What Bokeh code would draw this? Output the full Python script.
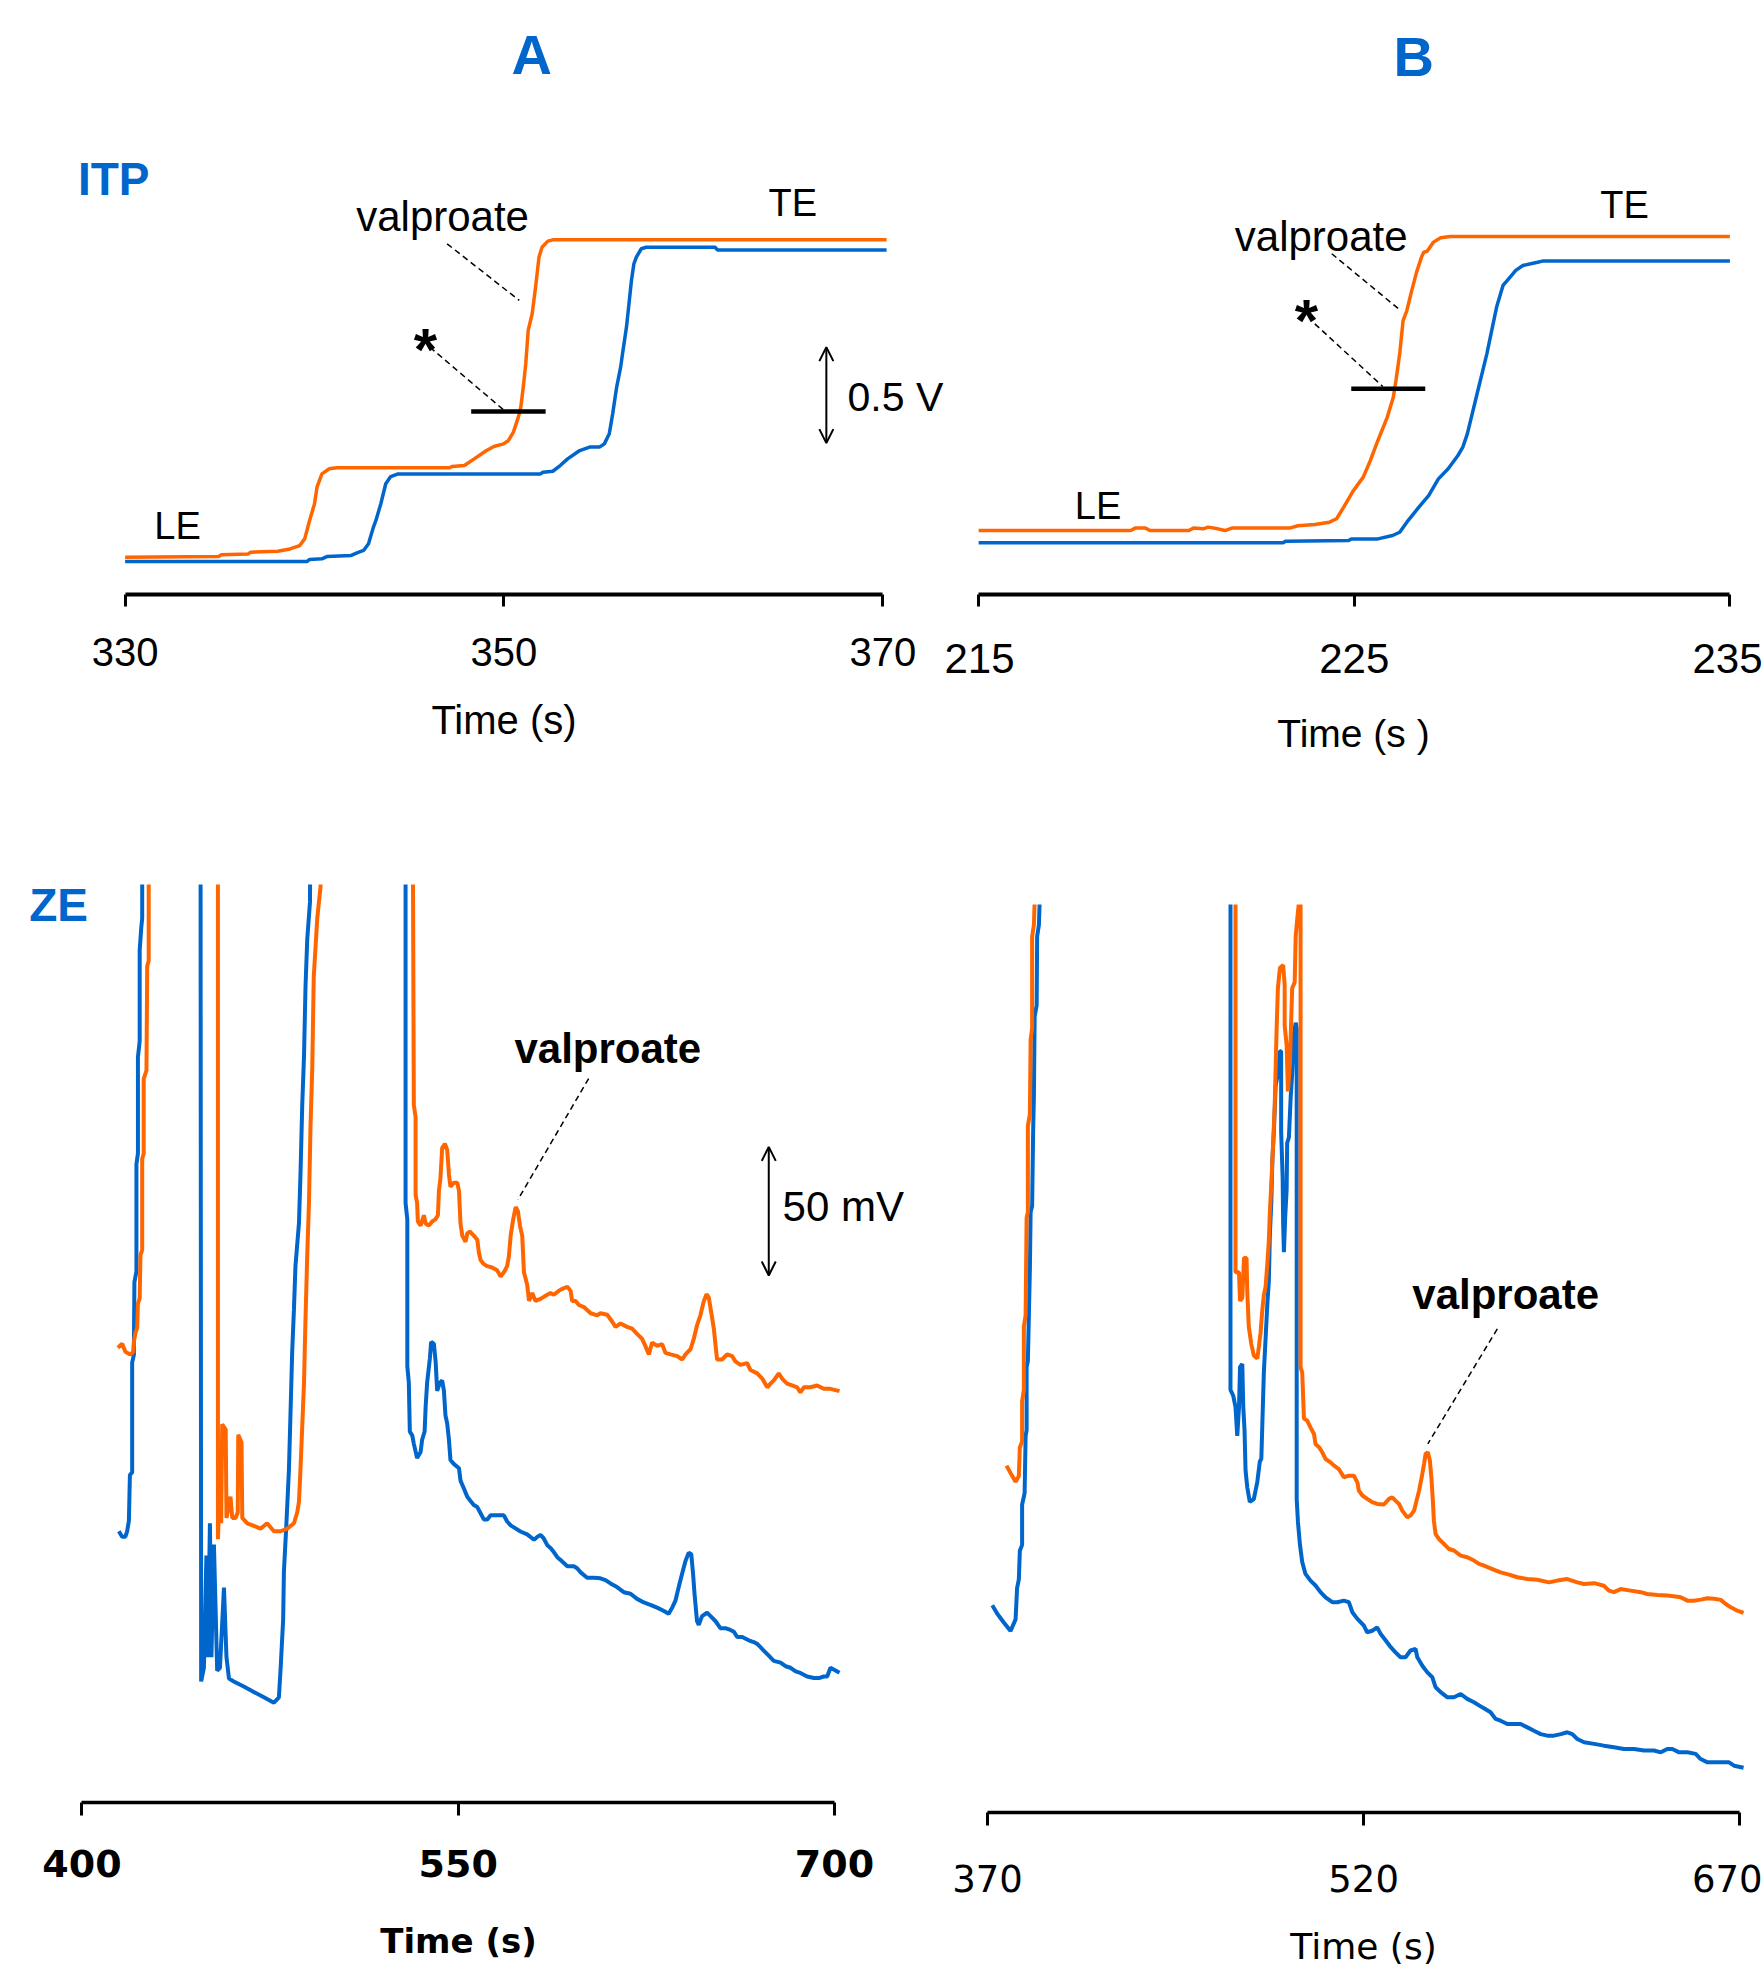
from bokeh.plotting import figure
from bokeh.layouts import column, row
from bokeh.models import Range1d, FixedTicker, Label, Arrow, OpenHead
from bokeh.embed import file_html
from bokeh.resources import INLINE

BLUE = "#0066CC"
ORANGE = "#FF6600"
FONT = "Liberation Sans"
FONT2 = "DejaVu Sans"

# ---------------- ITP, panel A (time s, voltage V) ----------------
itpA_orange_t = [330.0, 334.94, 335.07, 336.50, 336.63, 338.06, 338.70, 339.22, 339.48, 339.74, 340.00, 340.13,
                 340.39, 340.78, 341.17, 347.13, 347.26, 347.91, 348.43, 349.08, 349.47, 349.98, 350.24, 350.50,
                 350.76, 350.89, 351.02, 351.15, 351.28, 351.49, 351.67, 351.85, 352.01, 352.32, 352.58, 370.2]
itpA_orange_v = [0.023, 0.026, 0.035, 0.040, 0.049, 0.054, 0.066, 0.084, 0.119, 0.216, 0.304, 0.391,
                 0.461, 0.488, 0.493, 0.493, 0.500, 0.505, 0.540, 0.584, 0.605, 0.619, 0.637, 0.681,
                 0.760, 0.812, 0.918, 1.040, 1.216, 1.304, 1.444, 1.602, 1.654, 1.686, 1.693, 1.693]
itpA_blue_t = [330.0, 339.61, 339.74, 340.39, 340.65, 341.94, 342.21, 342.59, 342.85, 343.11, 343.24, 343.50,
               343.76, 344.02, 344.41, 351.93, 352.06, 352.58, 352.97, 353.36, 354.00, 354.52, 355.04, 355.30,
               355.56, 355.74, 355.95, 356.16, 356.26, 356.47, 356.60, 356.73, 356.86, 356.99, 357.25, 357.51,
               361.14, 361.27, 370.2]
itpA_blue_v = [0.0, 0.0, 0.011, 0.014, 0.026, 0.032, 0.044, 0.058, 0.093, 0.181, 0.216, 0.304,
               0.409, 0.447, 0.461, 0.461, 0.470, 0.475, 0.505, 0.540, 0.584, 0.602, 0.602, 0.619,
               0.672, 0.777, 0.918, 1.023, 1.093, 1.235, 1.356, 1.479, 1.567, 1.602, 1.646, 1.654,
               1.654, 1.640, 1.640]

# ---------------- ITP, panel B ----------------
itpB_orange_t = [215.0, 219.05, 219.18, 219.43, 219.56, 220.60, 220.72, 220.98, 221.11, 221.37, 221.56, 221.76,
                 223.30, 223.50, 223.95, 224.34, 224.53, 224.72, 224.98, 225.24, 225.43, 225.63, 225.88, 226.04,
                 226.11, 226.21, 226.30, 226.40, 226.53, 226.66, 226.79, 226.85, 226.94, 227.11, 227.30, 227.56, 235.0]
itpB_orange_v = [0.064, 0.064, 0.078, 0.078, 0.064, 0.064, 0.078, 0.073, 0.082, 0.073, 0.064, 0.078,
                 0.078, 0.089, 0.096, 0.108, 0.126, 0.187, 0.275, 0.345, 0.433, 0.538, 0.661, 0.766,
                 0.854, 0.994, 1.169, 1.222, 1.327, 1.424, 1.503, 1.529, 1.534, 1.582, 1.605, 1.612, 1.612]
itpB_blue_t = [215.0, 223.11, 223.17, 224.85, 224.92, 225.63, 226.02, 226.21, 226.40, 226.72, 226.98, 227.24,
               227.50, 227.76, 227.89, 228.01, 228.14, 228.27, 228.40, 228.53, 228.66, 228.79, 228.96, 229.11,
               229.30, 229.49, 229.88, 230.01, 235.0]
itpB_blue_v = [0.0, 0.0, 0.008, 0.012, 0.020, 0.020, 0.038, 0.055, 0.108, 0.187, 0.248, 0.336,
               0.389, 0.459, 0.503, 0.573, 0.678, 0.784, 0.889, 0.994, 1.117, 1.240, 1.354, 1.389,
               1.433, 1.459, 1.476, 1.482, 1.482]

# ---------------- ZE, panel A (time s, signal mV; values above ~357 are off-scale) ----------------
zeA_blue_t = [414.7, 416.0, 417.3, 418.0, 418.7, 419.1, 420.0, 420.0, 420.7, 420.7, 420.9, 421.7, 421.7, 422.3,
              422.3, 423.0, 423.0, 423.6, 424.0, 424.0, 424.3,
              447.25, 447.5, 448.6, 449.6, 450.2, 451.0, 451.6, 452.6, 453.9, 455.0, 456.6, 457.6, 458.6, 460.5,
              464.5, 468.5, 472.5, 476.5, 478.5, 479.2, 480.2, 480.5, 481.5, 482.5, 483.1, 483.8, 484.5, 485.1,
              486.5, 487.1, 487.8, 488.5, 489.1, 489.8, 490.9, 491.1,
              529.0, 529.0, 529.7, 529.7, 530.3, 530.7, 531.7, 532.3, 533.6, 535.0, 535.6, 536.6, 537.0, 537.6,
              538.7, 539.2, 540.3, 541.0, 541.6, 542.7, 543.6, 544.3, 544.9, 545.6, 546.3, 546.9, 548.3, 550.3,
              550.9, 552.3, 553.6, 554.9, 556.2, 557.6, 558.9, 560.2, 561.6, 562.9, 565.5, 568.2, 569.5, 570.9,
              572.2, 574.8, 577.5, 580.2, 581.5, 582.8, 584.1, 585.5, 586.8, 588.1, 589.5, 590.8, 593.5, 596.1,
              597.4, 598.8, 601.4, 604.1, 606.7, 608.7, 610.7, 613.3, 616.0, 618.7, 621.3, 624.0, 626.6, 629.3,
              632.0, 633.9, 635.3, 636.6, 637.9, 639.3, 640.6, 641.9, 642.9, 643.6, 644.2, 645.2, 645.9, 647.2,
              649.2, 650.6, 652.6, 654.5, 656.5, 658.5, 659.9, 661.2, 663.2, 665.8, 667.8, 669.2, 670.5, 671.8,
              673.8, 675.8, 678.5, 680.5, 682.5, 684.5, 686.4, 689.1, 691.8, 693.8, 695.7, 697.1, 698.4, 699.7,
              702.0]
zeA_blue_mv = [105.5, 103.4, 103.4, 105.5, 109.6, 127.4, 128.4, 171.1, 174.2, 177.4, 202.4, 206.5, 248.2, 252.4,
               289.9, 296.1, 331.5, 339.9, 344.0, 356.1, 400.0,
               400.0, 47.1, 52.4, 96.1, 56.5, 108.6, 56.5, 100.3, 51.3, 52.4, 83.6, 56.5, 48.2, 47.1,
               45.1, 43.0, 40.9, 38.8, 40.9, 52.4, 71.1, 89.8, 108.6, 129.4, 150.3, 175.3, 191.9, 208.6,
               225.3, 244.0, 271.1, 289.9, 316.9, 335.7, 350.3, 400.0,
               400.0, 233.2, 226.8, 169.7, 163.3, 144.3, 142.7, 139.5, 134.0, 136.3, 141.1, 144.3, 153.8, 163.3,
               172.8, 179.2, 178.4, 171.3, 160.1, 163.3, 164.1, 160.1, 150.6, 147.4, 141.1, 133.2, 131.6, 130.0,
               125.2, 122.0, 118.9, 117.3, 115.7, 114.9, 112.5, 110.1, 110.1, 111.7, 111.7, 111.7, 109.3, 107.8,
               107.0, 105.4, 104.3, 102.2, 103.3, 104.1, 102.7, 100.1, 99.0, 97.4, 95.4, 94.3, 91.9, 91.9,
               91.1, 89.5, 87.4, 87.4, 87.2, 86.5, 85.2, 83.8, 81.8, 81.2, 79.2, 77.8, 76.9, 75.8,
               74.5, 73.4, 75.8, 78.5, 83.8, 89.2, 93.9, 97.2, 96.6, 89.2, 81.2, 70.5, 69.1, 72.5,
               73.8, 72.5, 70.5, 67.8, 67.8, 67.1, 66.4, 64.4, 64.4, 63.1, 62.4, 61.7, 60.4, 59.1,
               57.1, 55.1, 54.4, 53.0, 52.4, 51.0, 50.4, 49.0, 48.4, 48.4, 49.0, 49.0, 52.4, 51.7,
               50.5]
zeA_orange_t = [414.3, 416.0, 417.3, 419.3, 420.4, 420.7, 421.3, 422.0, 422.3, 423.0, 423.3, 424.0, 424.0, 424.6,
                424.6, 425.7, 426.0, 426.6, 426.6, 426.8,
                454.2, 454.2, 455.0, 455.5, 455.9, 457.3, 457.6, 459.2, 459.9, 461.2, 462.1, 462.3, 463.6, 463.9,
                465.9, 468.5, 471.2, 473.8, 476.5, 479.2, 481.8, 484.5, 485.8, 486.5, 487.1, 487.8, 488.5, 489.1,
                489.8, 490.5, 491.1, 491.8, 492.4, 493.8, 495.1, 495.3,
                531.8, 532.3, 533.0, 533.0, 533.6, 533.9, 535.0, 536.3, 537.0, 538.3, 539.6, 540.9, 541.9, 542.3,
                542.9, 543.6, 544.7, 545.6, 546.3, 546.9, 548.3, 549.6, 550.3, 550.9, 551.6, 552.9, 553.6, 554.6,
                556.2, 557.6, 558.2, 558.9, 560.2, 561.6, 563.5, 565.5, 566.9, 568.2, 569.5, 570.2, 570.9, 571.9,
                572.9, 573.8, 574.6, 575.5, 576.2, 577.5, 578.2, 579.5, 580.8, 582.8, 585.5, 586.8, 588.1, 590.1,
                591.5, 593.5, 594.8, 595.4, 596.8, 598.1, 600.1, 602.8, 605.4, 606.7, 609.4, 611.4, 612.7, 614.7,
                617.3, 619.3, 621.3, 623.3, 624.6, 626.0, 627.3, 629.3, 631.3, 632.6, 634.6, 637.3, 639.3, 640.6,
                642.6, 643.9, 645.2, 646.6, 647.9, 649.0, 649.9, 650.8, 651.9, 652.6, 653.2, 655.2, 657.2, 659.2,
                660.5, 662.5, 665.2, 666.5, 669.2, 671.2, 673.2, 674.5, 675.8, 677.8, 679.1, 681.1, 683.1, 685.1,
                686.4, 687.8, 690.4, 693.1, 695.7, 698.4, 702.0]
zeA_orange_mv = [176.9, 178.4, 175.3, 174.2, 175.3, 179.2, 182.6, 184.7, 194.0, 196.1, 212.8, 214.9, 250.3, 252.4,
                 281.5, 284.7, 325.3, 327.4, 356.1, 400.0,
                 400.0, 102.4, 123.2, 108.6, 147.1, 145.0, 110.7, 119.0, 110.7, 110.7, 112.8, 143.0, 140.0, 110.7,
                 108.6, 107.6, 106.5, 108.6, 105.5, 105.5, 106.5, 108.6, 112.8, 116.9, 129.4, 146.1, 162.8, 187.8,
                 212.8, 233.6, 262.8, 285.7, 321.1, 344.0, 356.1, 400.0,
                 400.0, 271.3, 266.5, 236.3, 233.2, 226.0, 224.4, 228.4, 225.2, 224.4, 226.0, 226.8, 228.4, 237.9,
                 242.7, 254.6, 256.2, 253.8, 244.3, 239.5, 241.1, 241.1, 237.9, 225.2, 220.5, 218.1, 221.3, 222.1,
                 220.5, 218.9, 214.1, 211.0, 209.4, 208.6, 208.1, 207.0, 204.6, 206.2, 208.6, 212.5, 220.5, 226.8,
                 231.6, 230.0, 224.4, 220.5, 206.2, 201.4, 195.1, 198.2, 195.1, 195.9, 197.5, 198.2, 197.5, 199.0,
                 199.8, 200.6, 199.0, 195.1, 195.1, 193.5, 192.7, 190.3, 189.5, 190.3, 189.7, 187.0, 185.0, 186.3,
                 185.0, 184.3, 182.3, 180.3, 177.6, 174.3, 178.9, 177.6, 178.3, 174.9, 174.3, 173.6, 172.3, 174.3,
                 176.3, 180.3, 185.6, 189.7, 195.0, 197.7, 196.4, 191.0, 184.3, 177.6, 172.3, 172.3, 174.3, 173.6,
                 171.6, 170.2, 170.9, 168.2, 166.9, 164.9, 161.5, 162.9, 164.2, 166.9, 164.9, 162.9, 162.2, 161.5,
                 159.5, 161.5, 161.5, 162.2, 160.9, 160.9, 160.0]

# ---------------- ZE, panel B ----------------
zeB_blue_t = [371.9, 373.9, 376.5, 379.2, 381.2, 381.8, 382.5, 382.9, 383.8, 383.8, 384.8, 385.2, 385.6, 385.6,
              386.1, 386.5, 386.9, 387.2, 387.8, 388.2, 388.5, 388.8, 389.6, 389.8, 390.5, 390.8, 391.0,
              466.9, 466.9, 468.0, 468.9, 469.6, 470.3, 470.7, 471.6, 472.0, 472.5, 472.9, 473.6, 474.6, 476.2,
              477.6, 478.6, 479.2, 479.6, 480.2, 480.9, 481.6, 482.2, 482.6, 483.2, 483.6, 484.2, 484.9, 485.8,
              486.6, 487.1, 487.1, 487.7, 487.9, 488.2, 488.7, 489.3, 489.5, 490.2, 490.9, 491.5, 492.2, 492.9,
              493.3, 493.3, 493.8, 494.6, 495.5, 496.8, 498.8, 500.8, 502.8, 504.8, 507.5, 509.5, 512.1, 514.1,
              515.5, 517.5, 520.1, 521.4, 523.4, 525.4, 526.8, 528.8, 530.8, 532.7, 534.7, 536.7, 538.7, 540.7,
              541.4, 543.4, 545.4, 547.4, 548.7, 550.7, 553.4, 556.0, 558.7, 561.3, 564.0, 567.3, 570.6, 572.6,
              574.6, 577.3, 579.9, 582.6, 585.3, 587.9, 590.6, 593.2, 595.9, 598.6, 601.2, 603.2, 605.2, 607.9,
              611.9, 615.8, 619.8, 623.8, 627.8, 631.8, 635.8, 638.5, 641.1, 643.1, 645.8, 649.1, 652.4, 654.4,
              657.1, 660.4, 663.1, 665.7, 667.7, 671.5]
zeB_blue_mv = [80.6, 77.3, 73.9, 70.6, 75.1, 87.3, 90.7, 101.8, 104.1, 119.7, 124.2, 146.5, 148.7, 173.3,
               175.5, 193.4, 211.2, 233.6, 235.8, 264.8, 278.2, 309.5, 313.9, 340.7, 345.2, 354.1, 400.0,
               400.0, 164.4, 162.1, 157.7, 146.5, 157.7, 173.3, 174.4, 157.7, 148.7, 133.1, 126.4, 120.8, 121.9,
               128.6, 136.5, 137.6, 151.0, 171.1, 184.5, 197.9, 206.8, 224.6, 238.0, 253.7, 264.8, 282.7, 287.2,
               296.1, 296.1, 264.8, 247.0, 229.1, 217.9, 231.3, 242.5, 260.4, 262.6, 278.2, 287.2, 302.8, 307.2,
               305.0, 121.9, 113.0, 104.1, 97.4, 92.8, 90.2, 88.3, 85.7, 83.7, 81.8, 81.8, 82.4, 81.8,
               77.9, 75.3, 72.7, 70.1, 70.7, 72.0, 69.4, 66.9, 64.3, 62.3, 60.4, 60.4, 63.0, 63.6,
               60.4, 57.1, 54.5, 52.6, 48.7, 46.8, 44.8, 44.8, 46.1, 44.2, 42.9, 40.9, 39.0, 36.4,
               35.7, 34.4, 34.4, 34.4, 33.1, 31.8, 30.5, 29.9, 29.9, 30.5, 31.2, 30.5, 28.6, 27.3,
               26.7, 26.0, 25.4, 24.7, 24.7, 24.1, 24.1, 23.4, 24.7, 24.7, 23.4, 23.4, 22.8, 20.8,
               19.5, 19.5, 19.5, 19.5, 18.2, 17.4]
zeB_orange_t = [377.6, 379.2, 381.2, 382.5, 382.9, 383.8, 383.8, 384.5, 384.5, 385.2, 385.6, 386.1, 386.1, 386.9,
                387.2, 387.8, 387.8, 388.5, 388.8, 389.0,
                468.9, 468.9, 470.3, 470.7, 471.6, 472.3, 473.3, 473.6, 474.2, 475.2, 476.2, 477.6, 478.2, 478.9,
                479.6, 480.2, 480.9, 481.6, 482.2, 482.6, 483.2, 484.0, 484.5, 485.3, 485.8, 486.6, 487.9, 488.5,
                488.5, 489.3, 489.8, 490.6, 491.5, 492.5, 492.9, 493.5, 494.2, 494.5, 494.85, 494.85, 495.5, 496.2,
                497.5, 498.8, 500.2, 500.8, 502.2, 503.5, 504.8, 506.8, 508.2, 510.1, 512.1, 514.1, 516.1, 517.5,
                518.1, 519.5, 521.4, 523.4, 525.4, 528.1, 530.1, 531.4, 532.7, 534.1, 535.4, 537.4, 538.7, 540.1,
                541.1, 542.1, 543.4, 544.1, 544.7, 545.6, 546.4, 547.0, 547.6, 548.0, 548.7, 550.0, 552.0, 554.0,
                556.0, 558.7, 561.3, 564.0, 566.0, 568.0, 571.3, 574.6, 578.0, 581.3, 585.3, 589.3, 593.9, 597.2,
                601.2, 605.2, 607.9, 611.9, 615.8, 617.8, 619.8, 622.5, 626.5, 630.5, 633.1, 637.1, 641.1, 644.4,
                646.4, 649.1, 651.7, 654.4, 657.1, 659.7, 662.4, 664.4, 666.4, 669.0, 671.5]
zeB_orange_mv = [134.9, 132.0, 128.6, 130.9, 142.0, 144.3, 159.9, 164.4, 188.9, 193.4, 231.3, 233.6, 267.1, 271.5,
                 300.6, 305.0, 340.7, 345.2, 354.1, 400.0,
                 400.0, 210.1, 210.1, 199.0, 200.1, 215.7, 215.7, 202.3, 188.9, 182.2, 177.8, 176.6, 181.1, 186.7,
                 195.6, 201.2, 204.5, 213.5, 222.4, 233.6, 244.7, 262.6, 273.8, 305.0, 320.6, 328.5, 329.6, 321.8,
                 306.1, 298.3, 280.5, 291.6, 320.6, 322.9, 340.7, 347.4, 354.1, 400.0, 400.0, 173.3, 171.1, 153.2,
                 152.4, 149.8, 147.2, 143.3, 142.1, 140.1, 137.5, 136.2, 134.9, 133.6, 130.4, 131.0, 131.0, 128.4,
                 125.2, 123.3, 122.0, 120.7, 120.0, 119.8, 122.0, 122.6, 121.3, 120.0, 117.4, 114.8, 115.5, 117.4,
                 121.3, 125.2, 131.7, 135.6, 139.5, 140.1, 136.9, 130.4, 121.3, 113.5, 108.3, 106.4, 104.5, 102.5,
                 101.9, 99.9, 99.3, 98.0, 96.7, 96.0, 94.7, 93.4, 92.5, 91.5, 90.8, 90.5, 89.5, 90.2,
                 90.8, 89.5, 88.9, 89.2, 88.2, 86.3, 85.7, 86.9, 86.3, 85.7, 85.0, 84.6, 84.4, 84.0,
                 83.7, 82.4, 82.4, 82.8, 83.3, 83.1, 82.7, 81.1, 79.8, 78.5, 77.6]

ticks_A_itp = [330, 350, 370]
ticks_B_itp = [215, 225, 235]
ticks_A_ze = [400, 550, 700]
ticks_B_ze = [370, 520, 670]


def make_fig(width, height, xr, bounds, yr, borders, ticks, tick_font, tick_size, tick_standoff,
             label, label_font, label_size, label_standoff, axis_w, tick_w, tick_out, bold=False):
    left, right, top, bottom = borders
    p = figure(width=width, height=height, x_range=Range1d(*xr), y_range=Range1d(*yr),
               output_backend="svg", toolbar_location=None, title=None, y_axis_location=None,
               min_border_left=left, min_border_right=right, min_border_top=top, min_border_bottom=bottom)
    p.grid.visible = False
    p.outline_line_color = None
    p.background_fill_color = "white"
    p.border_fill_color = "white"
    ax = p.xaxis[0]
    ax.bounds = bounds
    ax.ticker = FixedTicker(ticks=ticks)
    ax.axis_line_width = axis_w
    ax.axis_line_color = "black"
    ax.major_tick_line_width = tick_w
    ax.major_tick_line_color = "black"
    ax.major_tick_out = tick_out
    ax.major_tick_in = 0
    ax.minor_tick_line_color = None
    ax.major_label_text_font = tick_font
    ax.major_label_text_font_size = tick_size
    ax.major_label_text_font_style = "bold" if bold else "normal"
    ax.major_label_text_color = "black"
    ax.major_label_standoff = tick_standoff
    ax.axis_label = label
    ax.axis_label_text_font = label_font
    ax.axis_label_text_font_size = label_size
    ax.axis_label_text_font_style = "bold" if bold else "normal"
    ax.axis_label_text_color = "black"
    ax.axis_label_standoff = label_standoff
    return p


def txt(p, x, y, text, size, bold=False, color="black", align="left", font=FONT):
    p.add_layout(Label(x=x, y=y, text=text, text_font=font, text_font_size=size,
                       text_font_style="bold" if bold else "normal", text_color=color,
                       text_align=align, text_baseline="alphabetic"))


def dashed(p, x0, y0, x1, y1):
    p.add_layout(Arrow(end=None, x_start=x0, y_start=y0, x_end=x1, y_end=y1,
                       line_dash="6 4", line_width=1.5, line_color="black"))


def bar(p, x0, x1, y):
    p.add_layout(Arrow(end=None, x_start=x0, y_start=y, x_end=x1, y_end=y,
                       line_width=4.5, line_color="black"))


def scale_arrow(p, x, y0, y1):
    p.add_layout(Arrow(start=OpenHead(size=14, line_width=2), end=OpenHead(size=14, line_width=2),
                       x_start=x, y_start=y0, x_end=x, y_end=y1, line_width=2, line_color="black"))


# ---- top-left: ITP A ----
pA1 = make_fig(944, 800, (326.748, 373.257), (330, 370), (-0.1737, 2.9526), (63, 0, 0, 206), ticks_A_itp,
               FONT, "40px", 31, "Time (s)", FONT, "40px", 29, 4, 3, 12)
pA1.line(itpA_blue_t, itpA_blue_v, line_color=BLUE, line_width=3.5)
pA1.line(itpA_orange_t, itpA_orange_v, line_color=ORANGE, line_width=3.5)
txt(pA1, 351.46, 2.667, "A", "56px", bold=True, color=BLUE, align="center")
txt(pA1, 327.51, 2.011, "ITP", "46px", bold=True, color=BLUE)
txt(pA1, 342.2, 1.814, "valproate", "42px")
txt(pA1, 363.97, 1.888, "TE", "38px")
txt(pA1, 331.54, 0.186, "LE", "38px")
txt(pA1, 345.86, 1.115, "*", "60px", bold=True, align="center")
dashed(pA1, 347.0, 1.672, 350.81, 1.374)
dashed(pA1, 346.09, 1.128, 349.98, 0.798)
bar(pA1, 348.27, 352.2, 0.789)
scale_arrow(pA1, 367.02, 0.623, 1.128)
txt(pA1, 368.14, 0.866, "0.5 V", "41px")

# ---- top-right: ITP B ----
pB1 = make_fig(818, 800, (214.092, 235.868), (215, 235), (-0.2726, 2.8537), (0, 0, 0, 206), ticks_B_itp,
               FONT, "42px", 37, "Time (s )", FONT, "39px", 36, 4, 3, 12)
pB1.line(itpB_blue_t, itpB_blue_v, line_color=BLUE, line_width=3.5)
pB1.line(itpB_orange_t, itpB_orange_v, line_color=ORANGE, line_width=3.5)
txt(pB1, 226.58, 2.557, "B", "56px", bold=True, color=BLUE, align="center")
txt(pB1, 221.82, 1.611, "valproate", "42px")
txt(pB1, 231.55, 1.776, "TE", "38px")
txt(pB1, 217.56, 0.191, "LE", "38px")
txt(pB1, 223.73, 1.170, "*", "60px", bold=True, align="center")
dashed(pB1, 224.40, 1.521, 226.21, 1.226)
dashed(pB1, 223.95, 1.152, 225.76, 0.822)
bar(pB1, 224.92, 226.89, 0.810)

# ---- bottom-left: ZE A ----
pA2 = make_fig(944, 1169, (367.51, 732.70), (400, 700), (0, 357.06), (0, 28, 84, 167), ticks_A_ze,
               FONT2, "38px", 34, "Time (s)", FONT2, "34px", 41, 3.5, 3, 13, bold=True)
pA2.line(zeA_blue_t, zeA_blue_mv, line_color=BLUE, line_width=4)
pA2.line(zeA_orange_t, zeA_orange_mv, line_color=ORANGE, line_width=4)
txt(pA2, 378.95, 349.1, "ZE", "46px", bold=True, color=BLUE)
txt(pA2, 572.4, 293.4, "valproate", "42px", bold=True)
dashed(pA2, 602.0, 281.6, 573.8, 234.5)
scale_arrow(pA2, 673.8, 205.0, 255.0)
txt(pA2, 679.3, 232.0, "50 mV", "42px")

# ---- bottom-right: ZE B ----
pB2 = make_fig(818, 1169, (360.83, 679.05), (370, 670), (0, 353.17), (20, 0, 104, 157), ticks_B_ze,
               FONT2, "37px", 39, "Time (s)", FONT2, "36px", 31, 3.5, 3, 13)
pB2.line(zeB_blue_t, zeB_blue_mv, line_color=BLUE, line_width=4)
pB2.line(zeB_orange_t, zeB_orange_mv, line_color=ORANGE, line_width=4)
txt(pB2, 539.4, 201.6, "valproate", "42px", bold=True)
dashed(pB2, 573.3, 188.1, 545.6, 143.4)

# each figure sits in its own row so that neighbouring frames are not aligned to each other
layout = row(column(row(pA1), row(pA2)), column(row(pB1), row(pB2)))
open("out.html", "w").write(file_html(layout, INLINE, "ITP and ZE traces"))
